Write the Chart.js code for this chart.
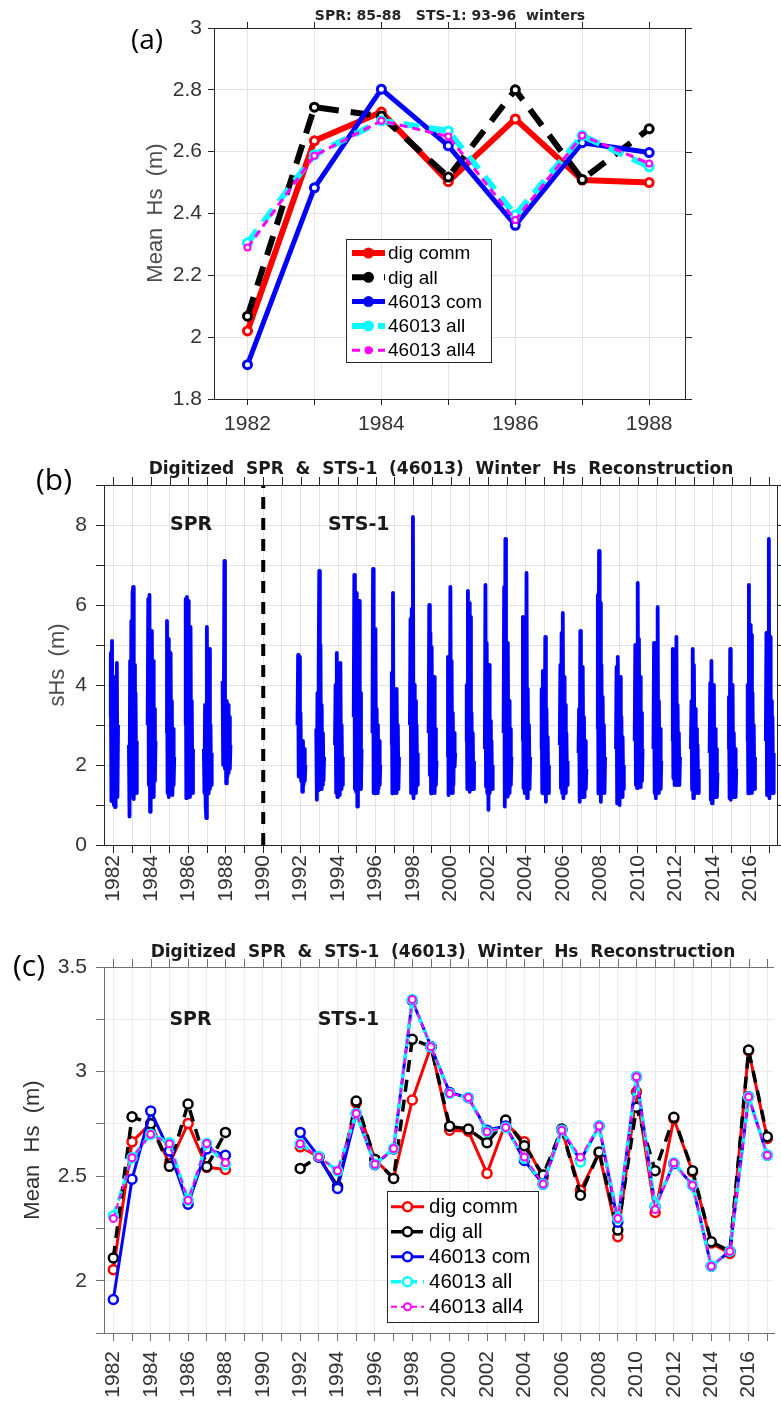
<!doctype html>
<html lang="en">
<head>
<meta charset="utf-8" />
<title>Digitized SPR &amp; STS-1 (46013) Winter Hs</title>
<script src="https://cdn.jsdelivr.net/npm/chart.js"></script>
<style>
  body { margin: 0; background: #fff; }
  .panel { position: absolute; left: 0; }
  canvas { display: block; }
</style>
</head>
<body>
<div class="panel" style="top:0"><canvas id="chartA" width="781" height="440"></canvas></div>
<div class="panel" style="top:440px"><canvas id="chartB" width="781" height="480"></canvas></div>
<div class="panel" style="top:920px"><canvas id="chartC" width="781" height="481"></canvas></div>

<script>
// ---- panel (a): SPR 85-88 / STS-1 93-96 winters ----
const yearsA = [1982, 1983, 1984, 1985, 1986, 1987, 1988];
const digCommA = [2.02, 2.635, 2.728, 2.503, 2.706, 2.508, 2.50];
const digAllA  = [2.068, 2.744, 2.715, 2.518, 2.80, 2.51, 2.674];
const comA     = [1.911, 2.483, 2.802, 2.619, 2.362, 2.629, 2.597];
const allA     = [2.305, 2.59, 2.70, 2.667, 2.395, 2.652, 2.551];
const all4A    = [2.29, 2.587, 2.70, 2.649, 2.379, 2.652, 2.562];

// ---- panel (b): winter sHs samples, one list per winter ----
const winterYears = [1982, 1983, 1984, 1985, 1986, 1987, 1988,
  1992, 1993, 1994, 1995, 1996, 1997, 1998, 1999, 2000, 2001, 2002, 2003, 2004,
  2005, 2006, 2007, 2008, 2009, 2010, 2011, 2012, 2013, 2014, 2015, 2016, 2017];
const sHsWinters = [
  [3.2, 4.8, 1.1, 5.1, 1.6, 4.2, 1.0, 2.9, 0.95, 3.8, 1.3, 4.55, 1.2, 3.0],
  [2.5, 0.71, 4.6, 1.2, 5.6, 1.6, 6.3, 6.45, 1.15, 4.5, 1.6, 3.8, 1.3, 2.6],
  [3.0, 6.15, 1.5, 6.25, 0.83, 3.5, 1.3, 5.35, 1.54, 4.6, 1.2, 3.4, 1.6, 2.6],
  [2.8, 5.6, 1.3, 5.15, 1.2, 3.9, 1.67, 4.8, 1.4, 3.6, 1.25, 2.9, 1.5, 2.2],
  [3.0, 6.15, 1.17, 6.2, 1.6, 6.1, 1.4, 3.8, 1.2, 5.45, 1.5, 3.6, 1.3, 2.4],
  [2.4, 1.3, 3.5, 1.0, 0.67, 5.45, 1.6, 3.7, 1.29, 4.9, 1.4, 3.0, 1.5, 2.3],
  [4.1, 2.0, 3.2, 7.1, 1.9, 3.1, 1.54, 3.6, 1.71, 3.5, 1.8, 3.2, 1.9, 2.5],
  [3.0, 4.75, 1.71, 4.7, 2.2, 3.3, 1.6, 2.6, 1.33, 2.6, 1.5, 2.4, 1.6, 2.0],
  [2.9, 1.13, 3.8, 1.37, 4.4, 6.85, 1.6, 5.0, 1.4, 3.5, 1.5, 2.8, 1.6, 2.2],
  [2.5, 4.0, 1.3, 4.8, 1.2, 3.6, 1.5, 3.2, 1.25, 4.55, 1.4, 3.0, 1.5, 2.2],
  [3.2, 6.75, 1.4, 5.0, 1.33, 6.3, 0.96, 4.4, 1.4, 6.1, 1.5, 3.8, 1.4, 2.4],
  [2.8, 6.9, 1.3, 4.5, 1.29, 5.4, 1.5, 3.4, 1.3, 3.0, 1.4, 2.6, 1.5, 2.0],
  [2.5, 4.3, 1.29, 6.3, 1.5, 3.8, 1.46, 3.1, 1.3, 3.9, 1.5, 3.0, 1.4, 2.2],
  [3.0, 5.65, 1.3, 5.9, 1.5, 8.2, 1.17, 4.0, 1.4, 3.6, 1.3, 3.0, 1.5, 2.3],
  [2.8, 6.0, 1.75, 5.3, 1.29, 4.95, 1.5, 3.7, 1.4, 4.2, 1.3, 2.9, 1.5, 2.1],
  [2.2, 4.7, 1.25, 3.8, 1.96, 6.45, 1.4, 4.6, 1.3, 3.3, 1.5, 2.8, 1.96, 2.3],
  [2.6, 4.0, 1.4, 6.35, 1.5, 6.05, 1.33, 5.7, 1.4, 3.3, 1.5, 2.8, 1.4, 2.1],
  [2.4, 6.5, 1.46, 5.05, 1.3, 3.6, 0.88, 4.5, 1.3, 3.1, 1.5, 2.6, 1.4, 2.0],
  [2.8, 6.45, 0.96, 7.65, 1.4, 4.6, 1.21, 5.05, 1.4, 3.6, 1.3, 2.9, 1.5, 2.2],
  [2.6, 5.7, 1.42, 5.55, 1.3, 4.0, 1.4, 6.8, 1.17, 3.9, 1.5, 3.0, 1.4, 2.2],
  [2.4, 3.9, 1.3, 4.35, 1.29, 3.5, 1.4, 5.2, 1.08, 3.4, 1.5, 2.7, 1.3, 2.0],
  [2.5, 4.5, 1.42, 5.3, 1.3, 5.8, 1.17, 4.2, 1.4, 3.5, 1.3, 2.8, 1.5, 2.1],
  [2.3, 3.4, 1.08, 5.35, 1.4, 3.9, 1.2, 4.45, 1.3, 3.2, 1.2, 2.6, 1.4, 1.9],
  [2.9, 6.25, 1.29, 7.35, 1.4, 6.05, 1.08, 4.5, 1.3, 3.7, 1.5, 3.0, 1.3, 2.2],
  [2.4, 4.45, 1.04, 4.7, 1.3, 3.6, 1.0, 4.2, 1.4, 3.2, 1.2, 2.7, 1.4, 2.0],
  [2.6, 5.0, 1.5, 4.1, 1.42, 6.55, 1.6, 5.15, 1.5, 4.2, 1.45, 3.3, 1.6, 2.4],
  [2.4, 5.05, 1.3, 3.65, 1.17, 3.2, 1.4, 5.95, 1.3, 3.6, 1.5, 2.9, 1.4, 2.1],
  [2.6, 4.9, 1.67, 4.8, 1.5, 3.7, 1.6, 5.2, 1.5, 3.5, 1.6, 2.8, 1.5, 2.2],
  [2.4, 3.6, 1.38, 4.9, 1.17, 4.5, 1.4, 3.4, 1.3, 2.9, 1.4, 2.5, 1.3, 1.9],
  [2.3, 4.05, 1.13, 4.6, 1.04, 3.5, 1.3, 4.0, 1.2, 2.9, 1.4, 2.4, 1.2, 1.8],
  [2.4, 3.7, 1.17, 4.9, 1.13, 3.2, 1.4, 4.0, 1.2, 2.8, 1.3, 2.4, 1.2, 1.9],
  [2.6, 4.0, 1.29, 6.5, 1.67, 5.5, 1.4, 5.25, 1.3, 3.8, 1.5, 3.0, 1.4, 2.2],
  [2.6, 5.3, 1.25, 4.2, 1.5, 7.65, 1.17, 5.2, 1.4, 3.6, 1.3, 3.2, 1.3, 2.3]
];
const splitYear = 1990;

// ---- panel (c): all winters, null where there is no record ----
const yearsC = [1982, 1983, 1984, 1985, 1986, 1987, 1988, 1989, 1990, 1991,
  1992, 1993, 1994, 1995, 1996, 1997, 1998, 1999, 2000, 2001, 2002, 2003, 2004,
  2005, 2006, 2007, 2008, 2009, 2010, 2011, 2012, 2013, 2014, 2015, 2016, 2017];
const digCommC = [2.053, 2.664, 2.752, 2.56, 2.752, 2.542, 2.532, null, null, null,
  2.64, 2.592, 2.45, 2.85, 2.58, 2.49, 2.864, 3.12, 2.72, 2.715, 2.513, 2.755, 2.664,
  2.49, 2.72, 2.433, 2.61, 2.21, 2.903, 2.326, 2.775, 2.52, 2.18, 2.13, 3.10, 2.68];
const digAllC = [2.109, 2.784, 2.75, 2.547, 2.845, 2.545, 2.709, null, null, null,
  2.537, 2.592, 2.45, 2.859, 2.58, 2.489, 3.154, 3.119, 2.738, 2.725, 2.66, 2.768, 2.645,
  2.505, 2.725, 2.409, 2.616, 2.242, 2.83, 2.526, 2.781, 2.526, 2.186, 2.141, 3.103, 2.688];
const comC = [1.91, 2.485, 2.811, 2.62, 2.366, 2.63, 2.60, null, null, null,
  2.709, 2.592, 2.441, 2.80, 2.555, 2.63, 3.34, 3.119, 2.90, 2.875, 2.72, 2.74, 2.575,
  2.462, 2.72, 2.575, 2.74, 2.28, 2.975, 2.355, 2.56, 2.457, 2.069, 2.141, 2.88, 2.60];
const allC = [2.31, 2.588, 2.70, 2.66, 2.385, 2.656, 2.555, null, null, null,
  2.655, 2.595, 2.525, 2.80, 2.557, 2.632, 3.345, 3.119, 2.895, 2.876, 2.712, 2.733, 2.585,
  2.462, 2.72, 2.568, 2.74, 2.298, 2.975, 2.356, 2.564, 2.457, 2.069, 2.141, 2.879, 2.60];
const all4C = [2.298, 2.588, 2.70, 2.655, 2.385, 2.656, 2.564, null, null, null,
  2.655, 2.592, 2.526, 2.80, 2.557, 2.632, 3.345, 3.119, 2.895, 2.876, 2.712, 2.733, 2.592,
  2.462, 2.72, 2.59, 2.74, 2.298, 2.975, 2.34, 2.564, 2.457, 2.069, 2.141, 2.879, 2.60];

const labels = ['dig comm', 'dig all', '46013 com', '46013 all', '46013 all4'];

// ---- fonts ----
const SANS = '"Liberation Sans", Arial, sans-serif';
const BOLD = 'bold 17px "DejaVu Sans", sans-serif';

// draws the box top/right, free texts, notes in data units and the legend
const decor = {
  id: 'decor',
  afterDraw(chart, args, o) {
    const { ctx, chartArea: a } = chart;
    const x = chart.scales.x, y = chart.scales.y;
    ctx.save();
    ctx.strokeStyle = o.axisColor;
    ctx.lineWidth = 1;
    ctx.setLineDash([]);
    ctx.beginPath();
    ctx.moveTo(a.left, a.top + 0.5); ctx.lineTo(a.right, a.top + 0.5);
    x.ticks.forEach(t => {
      const p = Math.round(x.getPixelForValue(t.value)) + 0.5;
      ctx.moveTo(p, a.top); ctx.lineTo(p, a.top - o.tickLen);
    });
    if (o.rightSide) {
      ctx.moveTo(a.right - 0.5, a.top); ctx.lineTo(a.right - 0.5, a.bottom);
      y.ticks.forEach(t => {
        const p = Math.round(y.getPixelForValue(t.value)) + 0.5;
        ctx.moveTo(a.right, p); ctx.lineTo(a.right + o.tickLen, p);
      });
    }
    ctx.stroke();

    const text = (t, px, py) => {
      ctx.save();
      ctx.font = t.font; ctx.fillStyle = t.color || '#000';
      ctx.textAlign = 'center'; ctx.textBaseline = 'middle';
      ctx.translate(px, py);
      if (t.rot) ctx.rotate(t.rot);
      ctx.fillText(t.text, 0, 0);
      ctx.restore();
    };
    (o.texts || []).forEach(t => text(t, t.x, t.y));
    (o.notes || []).forEach(t => text(t, x.getPixelForValue(t.x), y.getPixelForValue(t.y)));

    const L = o.legend;
    if (L) {
      ctx.fillStyle = '#fff';
      ctx.fillRect(L.x, L.y, L.w, L.h);
      ctx.strokeStyle = '#262626'; ctx.lineWidth = 1;
      ctx.strokeRect(L.x + 0.5, L.y + 0.5, L.w, L.h);
      chart.data.datasets.slice(0, 5).forEach((ds, i) => {
        const cy = L.row0 + i * L.step;
        ctx.strokeStyle = ds.borderColor; ctx.lineWidth = ds.borderWidth;
        ctx.setLineDash(ds.borderDash || []);
        ctx.beginPath(); ctx.moveTo(L.x0, cy); ctx.lineTo(L.x1, cy); ctx.stroke();
        ctx.setLineDash([]);
        ctx.lineWidth = ds.pointBorderWidth;
        ctx.fillStyle = L.filled ? ds.borderColor : '#fff';
        ctx.beginPath(); ctx.arc((L.x0 + L.x1) / 2, cy, ds.pointRadius, 0, Math.PI * 2);
        ctx.fill(); ctx.stroke();
        ctx.fillStyle = '#000'; ctx.font = L.font;
        ctx.textAlign = 'left'; ctx.textBaseline = 'middle';
        ctx.fillText(ds.label, L.tx, cy + 1);
      });
    }
    ctx.restore();
  }
};

// min/max are kept off whole steps so ticks land on whole years
function xAxis(min, max, o) {
  return {
    type: 'linear', min, max,
    ticks: {
      stepSize: 1, includeBounds: false, autoSkip: false,
      minRotation: o.rot, maxRotation: o.rot, padding: o.pad,
      color: '#333', font: { family: SANS, size: 21 },
      callback: v => (v % 2 === 0 ? String(v) : '')
    },
    grid: { color: o.grid, tickColor: o.axis, tickLength: o.tick },
    border: { color: o.axis },
    afterFit: s => { s.height = o.h; s.paddingLeft = 0; s.paddingRight = 0; }
  };
}

function yAxis(min, max, step, fmt, o) {
  return {
    min, max,
    ticks: {
      stepSize: step, includeBounds: false, autoSkip: false, padding: o.pad,
      color: '#333', font: { family: SANS, size: 21 }, callback: fmt
    },
    grid: { color: o.grid, tickColor: o.axis, tickLength: o.tick },
    border: { color: o.axis },
    afterFit: s => { s.width = o.w; s.paddingTop = 0; s.paddingBottom = 0; }
  };
}

function series(label, xs, ys, st) {
  return {
    label,
    data: xs.map((x, i) => ({ x, y: ys[i] })),
    borderColor: st.color, borderWidth: st.width, borderDash: st.dash,
    borderJoinStyle: 'round',
    pointRadius: st.r, pointBorderWidth: st.pw,
    pointBorderColor: st.color, pointBackgroundColor: '#fff',
    spanGaps: false, tension: 0, order: st.order
  };
}

function makeChart(id, datasets, scales, padding, decorOpts) {
  return new Chart(document.getElementById(id), {
    type: 'line',
    data: { datasets },
    options: {
      responsive: false, animation: false, events: [],
      layout: { padding },
      scales,
      plugins: { legend: { display: false }, tooltip: { enabled: false }, decor: decorOpts }
    },
    plugins: [decor]
  });
}

// ---------- (a) ----------
const stylesA = [
  { color: '#ff0000', width: 6, dash: [], r: 4, pw: 3, order: 5 },
  { color: '#000000', width: 6, dash: [20, 12], r: 4, pw: 3, order: 4 },
  { color: '#0000ff', width: 5, dash: [], r: 4, pw: 3, order: 3 },
  { color: '#00ffff', width: 6, dash: [16, 10], r: 4, pw: 3, order: 2 },
  { color: '#ff00ff', width: 3, dash: [8, 5], r: 3, pw: 2, order: 1 }
];
const seriesA = [digCommA, digAllA, comA, allA, all4A];
const axA = { grid: '#e4e4e4', axis: '#262626', tick: 6 };
makeChart('chartA',
  seriesA.map((ys, i) => series(labels[i], yearsA, ys, stylesA[i])),
  {
    x: xAxis(1981.5, 1988.55, { ...axA, rot: 0, pad: 7, h: 41 }),
    y: yAxis(1.8, 3.0, 0.2, v => String(Math.round(v * 10) / 10), { ...axA, pad: 6, w: 214 })
  },
  { left: 0, top: 28, right: 95, bottom: 0 },
  {
    axisColor: '#262626', tickLen: 6, rightSide: true,
    texts: [
      { text: '(a)', x: 147, y: 41, font: '28px "Open Sans", sans-serif' },
      { text: 'SPR: 85-88   STS-1: 93-96  winters', x: 450, y: 16, font: 'bold 14px "DejaVu Sans", sans-serif', color: '#262626' },
      { text: 'Mean  Hs  (m)', x: 156, y: 213, rot: -Math.PI / 2, font: '22px ' + SANS, color: '#4d4d4d' }
    ],
    legend: { x: 346, y: 239, w: 145, h: 123, row0: 253, step: 24.3, x0: 352, x1: 385, tx: 388, filled: true, font: '19px ' + SANS }
  });

// ---------- (b) ----------
const sHsPoints = [];
winterYears.forEach((yr, w) => {
  const vals = sHsWinters[w];
  vals.forEach((v, i) => sHsPoints.push({ x: yr - 0.17 + 0.42 * i / (vals.length - 1), y: v }));
  sHsPoints.push({ x: yr + 0.4, y: null });
});
const axB = { grid: '#e2e2e2', axis: '#262626', tick: 8 };
makeChart('chartB',
  [
    { label: 'sHs', data: sHsPoints, borderColor: '#0000ff', borderWidth: 3.8, borderJoinStyle: 'round',
      pointRadius: 0, spanGaps: false, order: 2 },
    { label: 'split', data: [{ x: splitYear, y: 0 }, { x: splitYear, y: 9 }], borderColor: '#000',
      borderWidth: 4, borderDash: [12, 9], pointRadius: 0, order: 1 }
  ],
  {
    x: xAxis(1981.5, 2017.48, { ...axB, rot: 90, pad: 2, h: 75 }),
    y: yAxis(0, 9, 1, v => (v % 2 === 0 ? String(v) : ''), { ...axB, pad: 9, w: 104 })
  },
  { left: 0, top: 45, right: 3, bottom: 0 },
  {
    axisColor: '#262626', tickLen: 8, rightSide: true,
    texts: [
      { text: '(b)', x: 54, y: 41, font: '30px "Open Sans", sans-serif' },
      { text: 'Digitized  SPR  &  STS-1  (46013)  Winter  Hs  Reconstruction', x: 441, y: 30, font: BOLD, color: '#1a1a1a' },
      { text: 'sHs  (m)', x: 58, y: 225, rot: -Math.PI / 2, font: '22px ' + SANS, color: '#4d4d4d' }
    ],
    notes: [
      { text: 'SPR', x: 1986.15, y: 8.0, font: 'bold 19px "DejaVu Sans", sans-serif', color: '#1a1a1a' },
      { text: 'STS-1', x: 1995.1, y: 8.0, font: 'bold 19px "DejaVu Sans", sans-serif', color: '#1a1a1a' }
    ]
  });

// ---------- (c) ----------
const stylesC = [
  { color: '#ff0000', width: 3, dash: [], r: 4.5, pw: 2.5, order: 5 },
  { color: '#000000', width: 3.5, dash: [12, 8], r: 4.5, pw: 2.5, order: 4 },
  { color: '#0000ff', width: 3, dash: [], r: 4.5, pw: 2.5, order: 3 },
  { color: '#00ffff', width: 3.5, dash: [10, 6], r: 4.5, pw: 2.5, order: 2 },
  { color: '#ff00ff', width: 2, dash: [6, 4], r: 3.5, pw: 2, order: 1 }
];
const seriesC = [digCommC, digAllC, comC, allC, all4C];
const axC = { grid: '#ececec', axis: '#707070', tick: 8 };
makeChart('chartC',
  seriesC.map((ys, i) => series(labels[i], yearsC, ys, stylesC[i])),
  {
    x: xAxis(1981.5, 2017.36, { ...axC, rot: 90, pad: 10, h: 68 }),
    y: yAxis(1.75, 3.5, 0.25, v => ((v * 2) % 1 === 0 ? String(v) : ''), { ...axC, pad: 9, w: 104 })
  },
  { left: 0, top: 47, right: 0, bottom: 0 },
  {
    axisColor: '#707070', tickLen: 8, rightSide: false,
    texts: [
      { text: '(c)', x: 29, y: 47, font: '30px "Open Sans", sans-serif' },
      { text: 'Digitized  SPR  &  STS-1  (46013)  Winter  Hs  Reconstruction', x: 443, y: 33, font: BOLD, color: '#1a1a1a' },
      { text: 'Mean  Hs  (m)', x: 33, y: 230, rot: -Math.PI / 2, font: '22px ' + SANS, color: '#333' }
    ],
    notes: [
      { text: 'SPR', x: 1986.13, y: 3.246, font: 'bold 19px "DejaVu Sans", sans-serif', color: '#1a1a1a' },
      { text: 'STS-1', x: 1994.58, y: 3.246, font: 'bold 19px "DejaVu Sans", sans-serif', color: '#1a1a1a' }
    ],
    legend: { x: 387, y: 271, w: 151, h: 131, row0: 286.7, step: 25, x0: 391, x1: 424, tx: 429, filled: false, font: '20.5px ' + SANS }
  });
</script>
</body>
</html>
